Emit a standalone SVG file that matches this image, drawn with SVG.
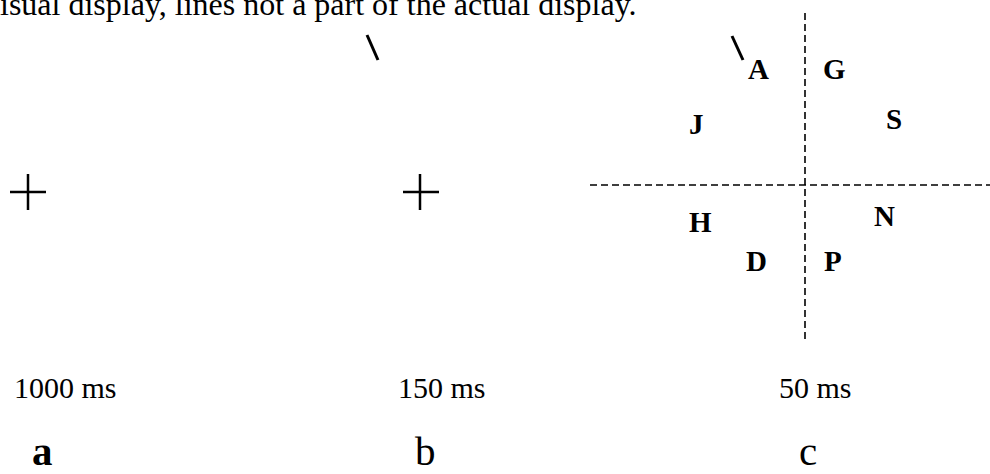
<svg xmlns="http://www.w3.org/2000/svg" width="990" height="474" viewBox="0 0 990 474">
<style>
.t{font-family:"Liberation Serif","Times New Roman",serif;fill:#000}
.lbl{font-size:30px}
.big{font-size:41px}
.ltr{font-size:29px;font-weight:bold}
.cross{stroke:#000;stroke-width:2.5;fill:none}
.slash{stroke:#000;stroke-width:3;fill:none}
.dash{stroke:#000;stroke-width:1.6;stroke-dasharray:7 4;fill:none}
</style>
<rect width="990" height="474" fill="#fff"/>
<text class="t" x="0" y="15" font-size="32">isual display, lines not a part of the actual display.</text>
<g id="panel-a">
<path class="cross" d="M10 192H46M28 174V210"/>
<text class="t lbl" x="14" y="398">1000 ms</text>
<text class="t big" x="32" y="465" font-weight="bold">a</text>
</g>
<g id="panel-b">
<path class="slash" d="M367 35L378 60"/>
<path class="cross" d="M403 192H439M420 174V210"/>
<text class="t lbl" x="398" y="398">150 ms</text>
<text class="t big" x="415" y="465">b</text>
</g>
<g id="panel-c">
<path class="dash" d="M805 13V342"/>
<path class="dash" d="M590 185H990"/>
<path class="slash" d="M732 36L743 60"/>
<text class="t ltr" x="748" y="79">A</text>
<text class="t ltr" x="823" y="79">G</text>
<text class="t ltr" x="689" y="134">J</text>
<text class="t ltr" x="886" y="129">S</text>
<text class="t ltr" x="689" y="232">H</text>
<text class="t ltr" x="874" y="226">N</text>
<text class="t ltr" x="746" y="271">D</text>
<text class="t ltr" x="824" y="271">P</text>
<text class="t lbl" x="779" y="398">50 ms</text>
<text class="t big" x="799" y="465">c</text>
</g>
</svg>
